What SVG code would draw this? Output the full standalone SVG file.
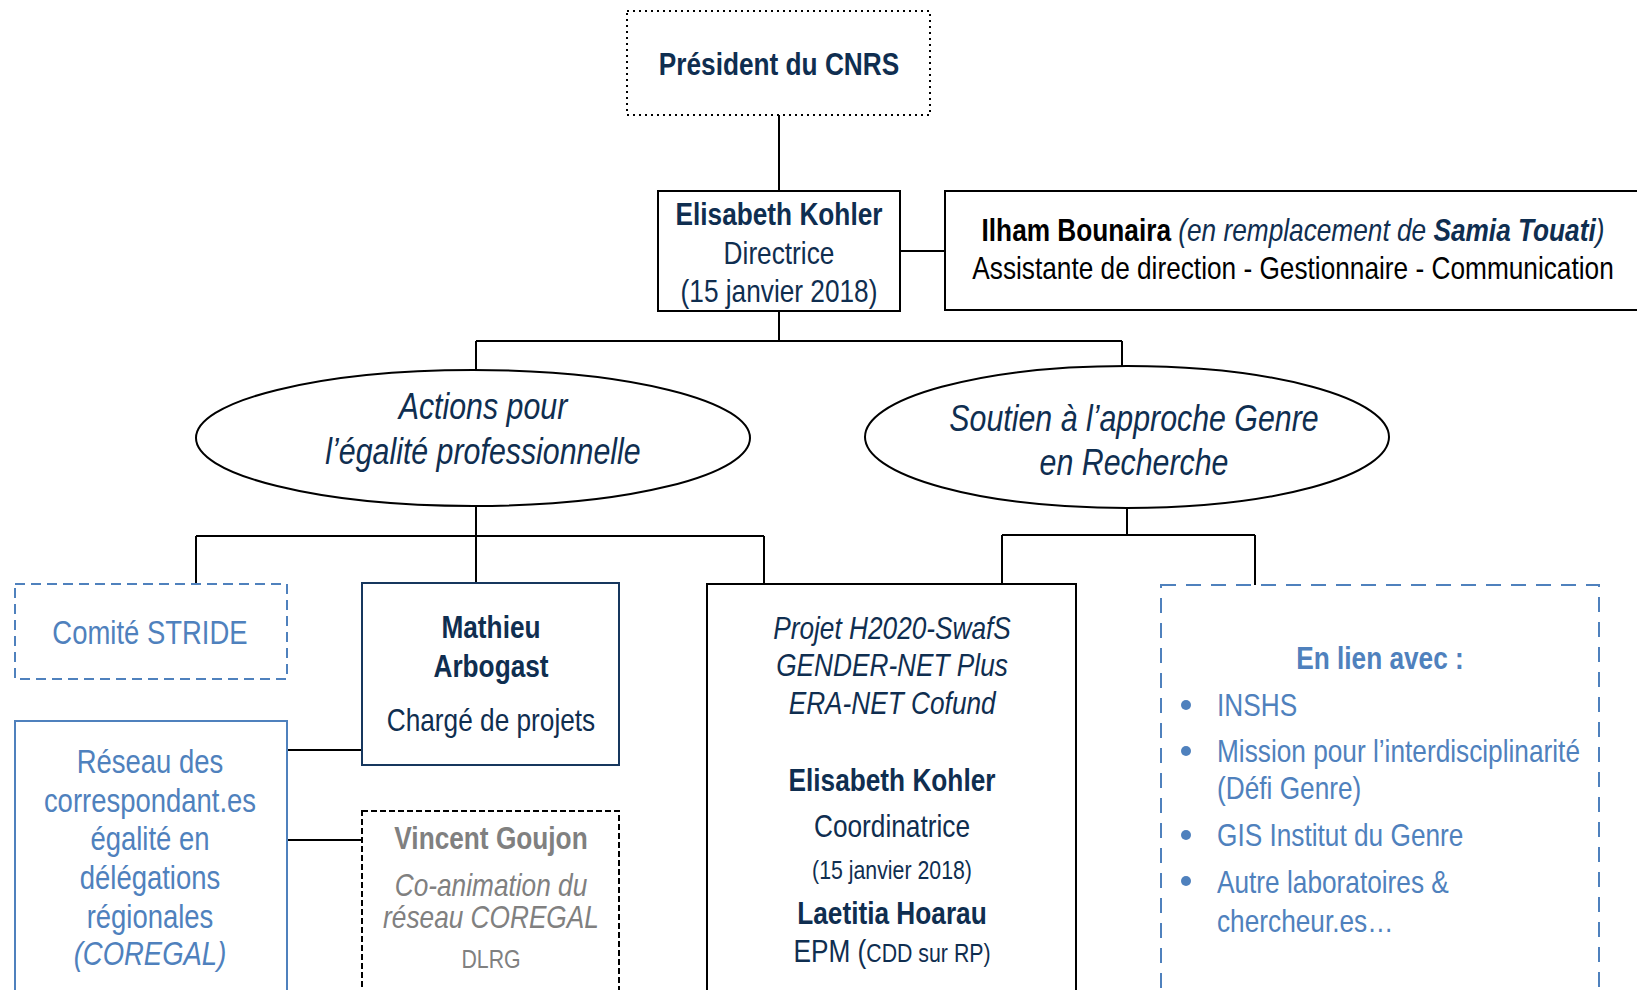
<svg xmlns="http://www.w3.org/2000/svg" width="1637" height="990" viewBox="0 0 1637 990">
<style>
text{font-family:"Liberation Sans",Arial,sans-serif;font-size:32px;text-anchor:middle;transform-box:fill-box;transform-origin:50% 50%;transform:scale(0.82,1)}
text.st{text-anchor:start;transform-origin:0% 50%}
.dk{fill:#0f2e50}
.bl{fill:#4f81bd}
.gy{fill:#808080}
.b{font-weight:bold}
.i{font-style:italic}
.sm{font-size:26px}
.md{font-size:33.5px}
.el{font-size:37px;font-style:italic}
.conn{stroke:#000;stroke-width:2;fill:none}
</style>
<rect width="1637" height="990" fill="#fff"/>
<g id="connectors" class="conn">
<path d="M779 115V191"/>
<path d="M900 251H945"/>
<path d="M779 311V341M476 341H1122M476 341V371M1122 341V366"/>
<path d="M476 506V536M196 536H764M196 536V584M476 536V583M764 536V584"/>
<path d="M1127 508V535M1002 535H1255M1002 535V584M1255 535V585"/>
<path d="M287 750H362M287 840H362"/>
</g>
<g id="president">
<rect x="627" y="11" width="303" height="104" fill="#fff" stroke="#000" stroke-width="2" stroke-dasharray="2 4"/>
<text x="779" y="75" class="dk b">Président du CNRS</text>
</g>
<g id="directrice">
<rect x="658" y="191" width="242" height="120" fill="#fff" stroke="#000" stroke-width="2"/>
<text x="779" y="225" class="dk b">Elisabeth Kohler</text>
<text x="779" y="264" class="dk">Directrice</text>
<text x="779" y="302" class="dk">(15 janvier 2018)</text>
</g>
<g id="assistante">
<rect x="945" y="191" width="700" height="119" fill="#fff" stroke="#000" stroke-width="2"/>
<text x="1293" y="241" class="dk"><tspan class="b" fill="#000">Ilham Bounaira</tspan><tspan class="i"> (en remplacement de </tspan><tspan class="b i">Samia Touati</tspan><tspan class="i">)</tspan></text>
<text x="1293" y="279" fill="#000">Assistante de direction - Gestionnaire - Communication</text>
</g>
<g id="egalite">
<ellipse cx="473" cy="438" rx="277" ry="68" fill="#fff" stroke="#000" stroke-width="2"/>
<text x="483" y="419" class="dk el">Actions pour</text>
<text x="483" y="464" class="dk el">l’égalité professionnelle</text>
</g>
<g id="genre">
<ellipse cx="1127" cy="437" rx="262" ry="71" fill="#fff" stroke="#000" stroke-width="2"/>
<text x="1134" y="431" class="dk el">Soutien à l’approche Genre</text>
<text x="1134" y="475" class="dk el">en Recherche</text>
</g>
<g id="stride">
<rect x="15" y="584" width="272" height="95" fill="#fff" stroke="#4f81bd" stroke-width="2" stroke-dasharray="10 6"/>
<text x="150" y="644" class="bl md">Comité STRIDE</text>
</g>
<g id="mathieu">
<rect x="362" y="583" width="257" height="182" fill="#fff" stroke="#17375e" stroke-width="2"/>
<text x="491" y="638" class="dk b">Mathieu</text>
<text x="491" y="677" class="dk b">Arbogast</text>
<text x="491" y="731" class="dk">Chargé de projets</text>
</g>
<g id="coregal">
<rect x="15" y="721" width="272" height="290" fill="#fff" stroke="#4f81bd" stroke-width="2"/>
<text x="150" y="773" class="bl md">Réseau des</text>
<text x="150" y="812" class="bl md">correspondant.es</text>
<text x="150" y="850" class="bl md">égalité en</text>
<text x="150" y="889" class="bl md">délégations</text>
<text x="150" y="928" class="bl md">régionales</text>
<text x="150" y="965" class="bl md i">(COREGAL)</text>
</g>
<g id="goujon">
<rect x="362" y="811" width="257" height="200" fill="#fff" stroke="#000" stroke-width="2" stroke-dasharray="6 3"/>
<text x="491" y="849" class="gy b">Vincent Goujon</text>
<text x="491" y="896" class="gy i">Co-animation du</text>
<text x="491" y="928" class="gy i">réseau COREGAL</text>
<text x="491" y="968" class="gy sm">DLRG</text>
</g>
<g id="projet">
<rect x="707" y="584" width="369" height="427" fill="#fff" stroke="#000" stroke-width="2"/>
<text x="892" y="639" class="dk i">Projet H2020-SwafS</text>
<text x="892" y="676" class="dk i">GENDER-NET Plus</text>
<text x="892" y="714" class="dk i">ERA-NET Cofund</text>
<text x="892" y="791" class="dk b">Elisabeth Kohler</text>
<text x="892" y="837" class="dk">Coordinatrice</text>
<text x="892" y="879" class="dk sm">(15 janvier 2018)</text>
<text x="892" y="924" class="dk b">Laetitia Hoarau</text>
<text x="892" y="962" class="dk">EPM (<tspan class="sm">CDD sur RP)</tspan></text>
</g>
<g id="enlien">
<rect x="1161" y="585" width="438" height="426" fill="#fff" stroke="#4f81bd" stroke-width="2" stroke-dasharray="15 10"/>
<text x="1380" y="669" class="bl b">En lien avec :</text>
<g fill="#4f81bd">
<circle cx="1186" cy="705" r="5"/>
<circle cx="1186" cy="751" r="5"/>
<circle cx="1186" cy="835" r="5"/>
<circle cx="1186" cy="881" r="5"/>
</g>
<text x="1217" y="716" class="bl st">INSHS</text>
<text x="1217" y="762" class="bl st">Mission pour l’interdisciplinarité</text>
<text x="1217" y="799" class="bl st">(Défi Genre)</text>
<text x="1217" y="846" class="bl st">GIS Institut du Genre</text>
<text x="1217" y="893" class="bl st">Autre laboratoires &amp;</text>
<text x="1217" y="932" class="bl st">chercheur.es…</text>
</g>
</svg>
